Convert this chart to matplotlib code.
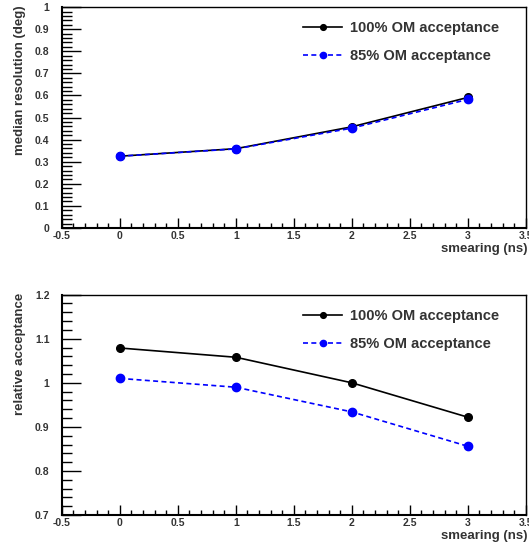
import matplotlib
matplotlib.use('Agg')
import matplotlib.pyplot as plt
from matplotlib.ticker import MultipleLocator, FormatStrFormatter

plt.rcParams['font.family'] = ['Liberation Sans', 'DejaVu Sans']
plt.rcParams['font.weight'] = 'bold'
plt.rcParams['axes.unicode_minus'] = False

smearing = [0, 1, 2, 3]
res_100 = [0.325, 0.359, 0.458, 0.591]
res_85 = [0.325, 0.358, 0.452, 0.582]
acc_100 = [1.079, 1.058, 1.000, 0.922]
acc_85 = [1.010, 0.990, 0.934, 0.856]
labels = ['100% OM acceptance', '85% OM acceptance']

fig = plt.figure(figsize=(5.29, 5.45), dpi=100)
ax1 = fig.add_axes([0.117, 0.5817, 0.877, 0.4053])
ax2 = fig.add_axes([0.117, 0.055, 0.877, 0.4043])


def style(ax, ylo, yhi, ylabel):
    ax.set_xlim(-0.5, 3.5)
    ax.set_ylim(ylo, yhi)
    ax.xaxis.set_major_locator(MultipleLocator(0.5))
    ax.xaxis.set_minor_locator(MultipleLocator(0.1))
    ax.yaxis.set_major_locator(MultipleLocator(0.1))
    ax.yaxis.set_minor_locator(MultipleLocator(0.02))
    ax.xaxis.set_major_formatter(FormatStrFormatter('%g'))
    ax.yaxis.set_major_formatter(FormatStrFormatter('%g'))
    ax.tick_params(axis='y', which='major', direction='in', length=14, width=1,
                   labelsize=7.5, pad=9, right=False)
    ax.tick_params(axis='y', which='minor', direction='in', length=7, width=1, right=False)
    ax.tick_params(axis='x', which='major', direction='in', length=7, width=1,
                   labelsize=7.5, pad=2, top=False)
    ax.tick_params(axis='x', which='minor', direction='in', length=3.5, width=1, top=False)
    for lab in ax.get_xticklabels() + ax.get_yticklabels():
        lab.set_fontweight('bold')
        lab.set_color('#333333')
    for s in ax.spines.values():
        s.set_linewidth(1)
    ax.spines['left'].set_linewidth(1.5)
    ax.spines['bottom'].set_linewidth(1.5)
    ax.set_ylabel(ylabel, fontsize=9.5, fontweight='bold', color='#333333')
    ax.yaxis.set_label_coords(-0.078, 1.01)
    ax.yaxis.label.set_horizontalalignment('right')
    ax.set_xlabel('smearing (ns)', fontsize=9.5, fontweight='bold', color='#333333')
    ax.xaxis.set_label_coords(1.004, -0.07)
    ax.xaxis.label.set_horizontalalignment('right')


ax1.plot(smearing, res_100, 'k-', marker='o', ms=5.5, lw=1.2, label=labels[0])
ax1.plot(smearing, res_85, color='blue', ls=(0, (3, 2)), marker='o', ms=6, lw=1.2, label=labels[1])
style(ax1, 0, 1, 'median resolution (deg)')

ax2.plot(smearing, acc_100, 'k-', marker='o', ms=5.5, lw=1.2, label=labels[0])
ax2.plot(smearing, acc_85, color='blue', ls=(0, (3, 2)), marker='o', ms=6, lw=1.2, label=labels[1])
style(ax2, 0.7, 1.2, 'relative acceptance')

# legend anchors in figure pixels (top-left corner of first row)
for ax, ytop in ((ax1, 21), (ax2, 309)):
    leg = ax.legend(loc='upper left', bbox_to_anchor=(303 / 529, 1 - ytop / 545),
                    bbox_transform=fig.transFigure, frameon=False,
                    prop={'family': 'Liberation Sans', 'weight': 'bold', 'size': 10.5},
                    handlelength=2.7, labelspacing=0.95, handletextpad=0.55,
                    borderpad=0, borderaxespad=0, markerscale=0.75)
    for t in leg.get_texts():
        t.set_color('#333333')

fig.savefig('out.png', dpi=100)
